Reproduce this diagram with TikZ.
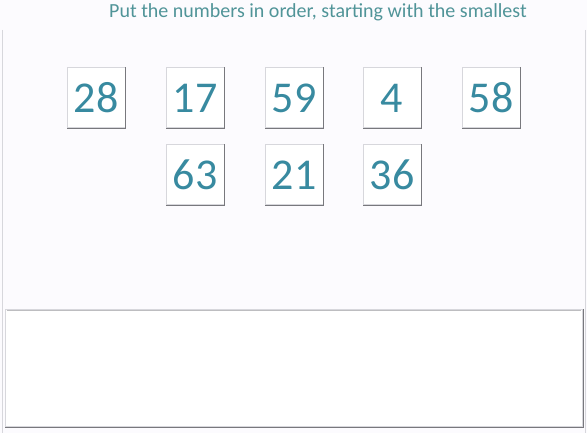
\documentclass[tikz,border=0pt]{standalone}
\usepackage{fontspec}
\setmainfont{Carlito}
\definecolor{numcol}{RGB}{56,138,160}
\definecolor{titlecol}{RGB}{80,148,152}
\definecolor{bgcol}{RGB}{252,251,254}
\definecolor{edgedark}{RGB}{120,120,125}
\definecolor{edgelight}{RGB}{215,215,220}
\tikzset{
  numbox/.style={minimum width=58pt, minimum height=60pt, inner sep=0pt,
    fill=white, draw=edgelight, line width=1pt,
    font=\fontsize{44}{44}\selectfont, text=numcol},
  shadowedge/.style={draw=edgedark, line width=1.4pt}
}
\begin{document}
\begin{tikzpicture}[x=1pt,y=-1pt]
\useasboundingbox (0,0) rectangle (587,433);
\fill[bgcol] (0,0) rectangle (587,433);
\draw[edgelight, line width=1pt] (2,30) -- (2,433);
\draw[edgelight, line width=1pt] (585,30) -- (585,433);
\node[font=\fontsize{20}{20}\selectfont, text=titlecol] (title) at (318,12) {Put the numbers in order, starting with the smallest};
\node[numbox] (n28) at (96,98) {28};
\node[numbox] (n17) at (195,98) {17};
\node[numbox] (n59) at (294,98) {59};
\node[numbox] (n4) at (392,98) {4};
\node[numbox] (n58) at (491,98) {58};
\node[numbox] (n63) at (195,175) {63};
\node[numbox] (n21) at (294,175) {21};
\node[numbox] (n36) at (392,175) {36};
\foreach \b in {n28,n17,n59,n4,n58,n63,n21,n36}{
  \draw[shadowedge] (\b.north east) -- (\b.south east) -- (\b.south west);
}
\node[draw=edgelight, line width=1.2pt, fill=white, minimum width=577pt, minimum height=117pt, inner sep=0pt] (answer) at (294,368) {};
\draw[edgedark, line width=1.2pt] (answer.north east) -- (answer.south east) -- (answer.south west);
\draw[edgelight!70!gray, line width=1pt] ([xshift=2pt,yshift=-2pt]answer.north west) -- ([xshift=-2pt,yshift=-2pt]answer.north east);
\end{tikzpicture}
\end{document}
